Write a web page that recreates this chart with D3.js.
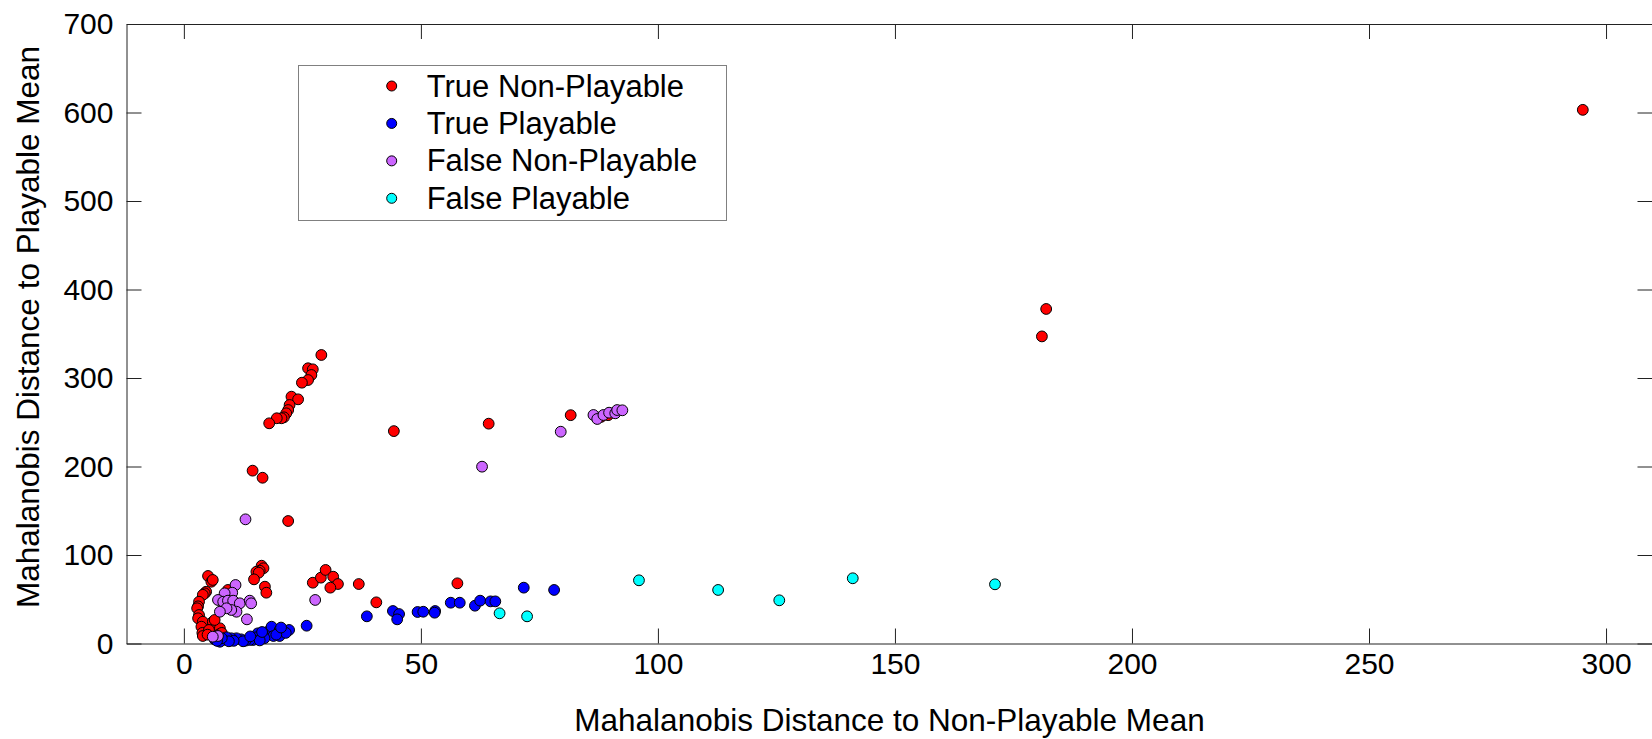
<!DOCTYPE html>
<html>
<head>
<meta charset="utf-8">
<script src="https://cdn.jsdelivr.net/npm/d3@7"></script>
<style>
  body { margin: 0; background: #fff; }
  text { font-family: "Liberation Sans", Arial, sans-serif; fill: #000; }
</style>
</head>
<body>
<div id="chart"></div>
<script>
// Series names (legend order)
const categories = ["True Non-Playable", "True Playable", "False Non-Playable", "False Playable"];

// [distance to non-playable mean, distance to playable mean]
const trueNonPlayable = [
  [295.1, 603], [181.9, 378], [181, 347], [81.6, 258], [64.3, 248.4], [44.3, 240], [88, 256], [89.5, 258],
  [29.0, 326], [26.2, 311], [27.2, 309.8], [26.9, 303.4], [26.2, 297.7], [24.9, 294.7], [22.7, 278.9],
  [24.1, 275.9], [22.3, 269.5], [22.0, 263.8], [21.6, 260.1], [21.1, 255.6], [20.6, 254.5], [19.6, 254.5],
  [18.0, 248.8], [14.5, 195.3], [16.6, 187.3], [22.0, 138.4],
  [16.4, 87.9], [16.8, 85], [16.0, 82.3], [15.3, 81.1], [15.8, 80], [14.8, 72.5], [17.1, 64.2], [17.4, 57.4],
  [5.1, 76.3], [5.8, 69.8], [6.1, 71.8], [4.7, 58.5], [4.4, 56.7], [4.0, 55], [3.2, 47.2], [3.0, 42],
  [2.8, 39.8], [3.2, 32.2], [3.0, 28.5], [4.0, 24.6], [3.7, 19], [3.9, 12], [4.0, 8.5], [6.1, 24.6],
  [7.2, 16], [6.1, 15.3], [6.5, 7.7], [7.6, 17.2], [5.3, 15.3], [6.5, 26.6], [9.3, 60.5], [5.0, 10],
  [7.5, 10.5], [8.0, 12],
  [27.2, 68.7], [28.9, 74.4], [29.9, 83.1], [31.5, 75.5], [32.5, 67.2], [30.9, 63.1], [36.9, 67.2],
  [40.6, 46.5], [57.7, 68.0]
];

const truePlayable = [
  [38.6, 30.7], [44.1, 36.7], [45.4, 33.3], [45.0, 27.3], [49.3, 35.6], [50.5, 35.9], [53.0, 36.7],
  [52.9, 34.8], [56.3, 46.1], [58.2, 46.1], [61.4, 42.7], [62.5, 48.4], [64.7, 47.6], [65.7, 47.6],
  [71.7, 63.1], [78.1, 60.5], [25.9, 20.1],
  [22.2, 15.3], [20.9, 14.1], [20.2, 8.5], [18.8, 11.5], [18.5, 17.2], [17.7, 13.3], [16.7, 9.6],
  [15.6, 11.5], [15.3, 7], [14.6, 4], [13.9, 4], [13.0, 3.2], [12.1, 4.7], [11.1, 5.9], [10.0, 5.9],
  [9.0, 7], [8.3, 4], [7.6, 2], [6.5, 4.7], [18.5, 19], [20.2, 15.3], [18.9, 8.5], [21.5, 12],
  [19.5, 10], [17, 6], [16, 3.5], [12.5, 2.5], [10.5, 3], [9.5, 2.5], [8, 6], [7, 3], [14, 8],
  [16.5, 13], [20.5, 18]
];

const falseNonPlayable = [
  [79.5, 239.3], [86.4, 258.2], [87.2, 253.7], [88.5, 258.2], [89.7, 260.8], [91.0, 260.1],
  [91.4, 263.8], [92.5, 263.5], [62.9, 199.8], [13.0, 140.3], [27.7, 49.2],
  [10.9, 66.1], [10.2, 57.4], [8.6, 56.7], [7.2, 49.2], [8.3, 47.2], [9.3, 48.4], [10.4, 48.4],
  [11.8, 45.4], [13.9, 48.4], [14.2, 45.4], [11.1, 35.9], [10.0, 37.9], [9.0, 39.8], [7.6, 35.9],
  [13.3, 27.3], [7.2, 8.5], [6.1, 7.7]
];

const falsePlayable = [
  [66.6, 34.1], [72.4, 30.7], [96.0, 71.4], [112.7, 60.5], [125.6, 48.8], [141.1, 73.7], [171.1, 66.9]
];

const xTicks = [0, 50, 100, 150, 200, 250, 300];
const yTicks = [0, 100, 200, 300, 400, 500, 600, 700];

const seriesData = [trueNonPlayable, truePlayable, falseNonPlayable, falsePlayable];
const seriesColors = ["#ff0000", "#0000ff", "#cc66ff", "#00ffff"];

const width = 1652, height = 739;
const plot = { left: 126.5, right: 1652.5, top: 24, bottom: 643.5 };

const svg = d3.select("#chart").append("svg")
  .attr("width", width)
  .attr("height", height);

const x = d3.scaleLinear().domain([-12.1, 309.8]).range([plot.left, plot.right]);
const y = d3.scaleLinear().domain([0, 700]).range([plot.bottom, plot.top]);

// axes, ticks pointing inward on all four sides
function styleAxis(g) {
  g.select(".domain").attr("stroke", "#222").attr("stroke-width", 1);
  g.selectAll(".tick line").attr("stroke", "#222").attr("stroke-width", 1);
  g.selectAll(".tick text").style("font-size", "30px").attr("fill", "#000");
}

svg.append("g")
  .attr("transform", `translate(0,${plot.bottom})`)
  .call(d3.axisBottom(x).tickValues(xTicks).tickSizeInner(-15).tickSizeOuter(0).tickPadding(9))
  .call(styleAxis);

svg.append("g")
  .attr("transform", `translate(0,${plot.top})`)
  .call(d3.axisTop(x).tickValues(xTicks).tickSizeInner(-15).tickSizeOuter(0).tickFormat(""))
  .call(styleAxis);

svg.append("g")
  .attr("transform", `translate(${plot.left},0)`)
  .call(d3.axisLeft(y).tickValues(yTicks).tickSizeInner(-15).tickSizeOuter(0).tickPadding(13))
  .call(styleAxis);

svg.append("g")
  .attr("transform", `translate(${plot.right},0)`)
  .call(d3.axisRight(y).tickValues(yTicks).tickSizeInner(-15).tickSizeOuter(0).tickFormat(""))
  .call(styleAxis);

svg.selectAll("g text").attr("font-family", null);

// points
seriesData.forEach((pts, i) => {
  svg.append("g")
    .selectAll("circle")
    .data(pts)
    .enter().append("circle")
    .attr("cx", d => x(d[0]))
    .attr("cy", d => y(d[1]))
    .attr("r", 5.4)
    .attr("fill", seriesColors[i])
    .attr("stroke", "#000")
    .attr("stroke-width", 1);
});

// axis labels
svg.append("text")
  .attr("x", (plot.left + plot.right) / 2)
  .attr("y", 731)
  .attr("text-anchor", "middle")
  .style("font-size", "31.5px")
  .text("Mahalanobis Distance to Non-Playable Mean");

svg.append("text")
  .attr("transform", "translate(39,327) rotate(-90)")
  .attr("text-anchor", "middle")
  .style("font-size", "31.5px")
  .text("Mahalanobis Distance to Playable Mean");

// legend
const legend = svg.append("g");
legend.append("rect")
  .attr("x", 298.5).attr("y", 65.5)
  .attr("width", 428).attr("height", 155)
  .attr("fill", "#fff")
  .attr("stroke", "#808080")
  .attr("stroke-width", 1);

const rowY = d3.scalePoint().domain(categories).range([86, 198.3]);

const item = legend.selectAll("g.item")
  .data(categories)
  .enter().append("g")
  .attr("class", "item");

item.append("circle")
  .attr("cx", 391.7)
  .attr("cy", d => rowY(d))
  .attr("r", 5)
  .attr("fill", (d, i) => seriesColors[i])
  .attr("stroke", "#000")
  .attr("stroke-width", 1);

item.append("text")
  .attr("x", 426.7)
  .attr("y", d => rowY(d))
  .attr("dominant-baseline", "central")
  .style("font-size", "31px")
  .text(d => d);
</script>
</body>
</html>
